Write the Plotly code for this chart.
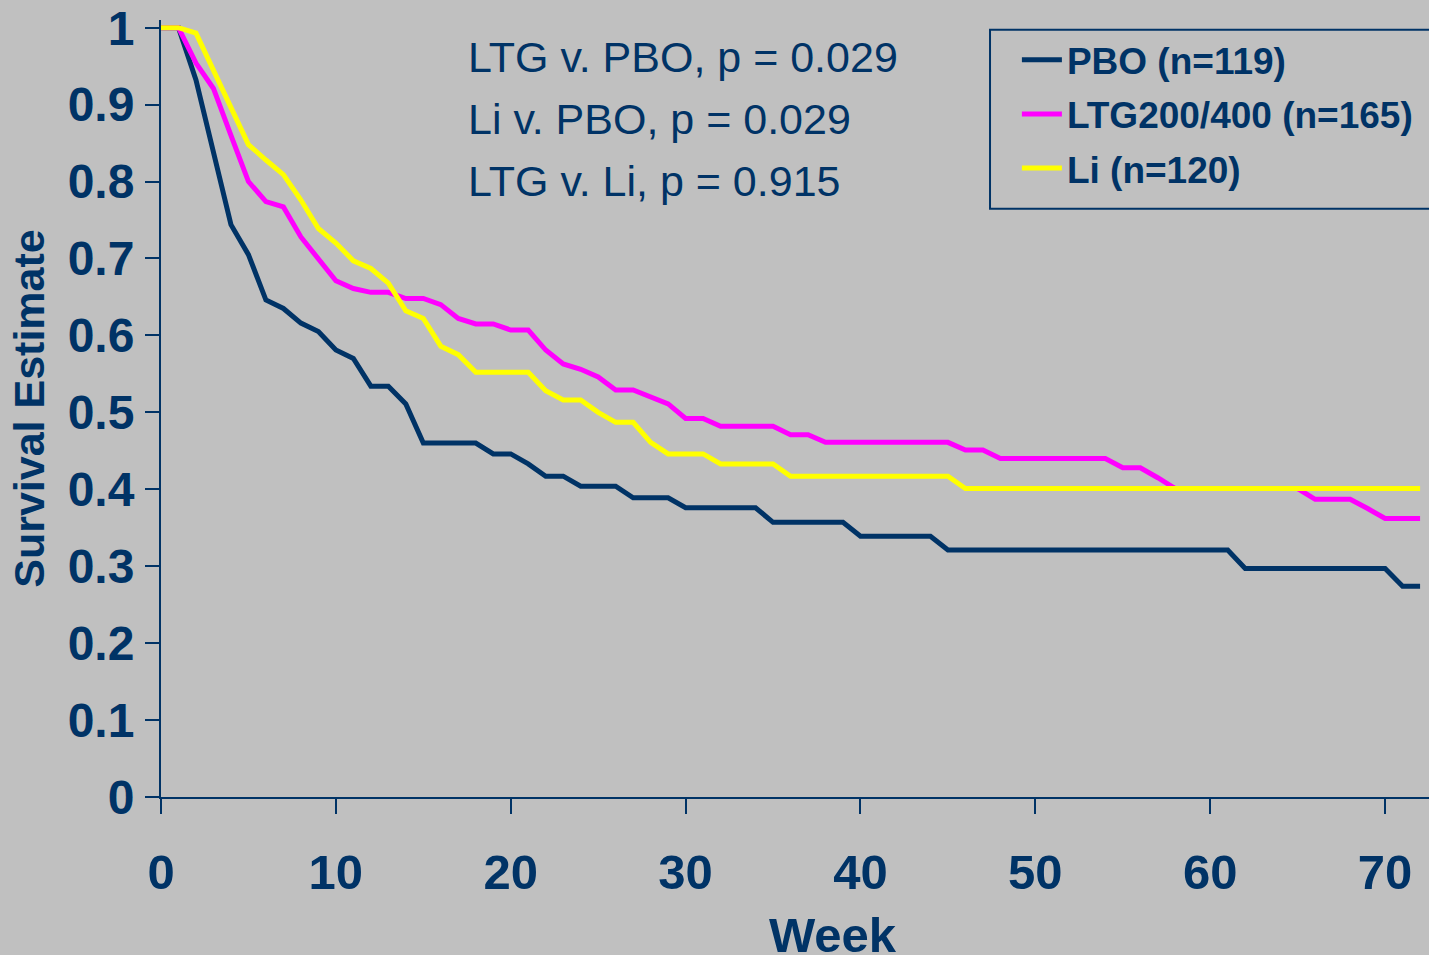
import plotly.graph_objects as go

weeks = list(range(0, 73))

pbo = [1.0, 1.0, 0.932, 0.838, 0.744, 0.705, 0.646, 0.635, 0.616, 0.605,
       0.581, 0.570, 0.534, 0.534, 0.511, 0.46, 0.46, 0.46, 0.46, 0.446,
       0.446, 0.433, 0.417, 0.417, 0.404, 0.404, 0.404, 0.389, 0.389, 0.389,
       0.376, 0.376, 0.376, 0.376, 0.376, 0.357, 0.357, 0.357, 0.357, 0.357,
       0.339, 0.339, 0.339, 0.339, 0.339, 0.321, 0.321, 0.321, 0.321, 0.321,
       0.321, 0.321, 0.321, 0.321, 0.321, 0.321, 0.321, 0.321, 0.321, 0.321,
       0.321, 0.321, 0.297, 0.297, 0.297, 0.297, 0.297, 0.297, 0.297, 0.297,
       0.297, 0.274, 0.274]

ltg = [1.0, 1.0, 0.954, 0.921, 0.86, 0.80, 0.774, 0.767, 0.728, 0.70,
       0.671, 0.661, 0.656, 0.656, 0.648, 0.648, 0.640, 0.622, 0.615, 0.615,
       0.607, 0.607, 0.581, 0.563, 0.556, 0.546, 0.529, 0.529, 0.520, 0.511,
       0.492, 0.492, 0.482, 0.482, 0.482, 0.482, 0.471, 0.471, 0.461, 0.461,
       0.461, 0.461, 0.461, 0.461, 0.461, 0.461, 0.451, 0.451, 0.44, 0.44,
       0.44, 0.44, 0.44, 0.44, 0.44, 0.428, 0.428, 0.415, 0.401, 0.401,
       0.401, 0.401, 0.401, 0.401, 0.401, 0.401, 0.387, 0.387, 0.387, 0.375,
       0.362, 0.362, 0.362]

li = [1.0, 1.0, 0.993, 0.945, 0.896, 0.848, 0.828, 0.809, 0.776, 0.739,
      0.72, 0.697, 0.687, 0.668, 0.632, 0.622, 0.586, 0.575, 0.552, 0.552,
      0.552, 0.552, 0.528, 0.516, 0.516, 0.50, 0.487, 0.487, 0.461, 0.446,
      0.446, 0.446, 0.433, 0.433, 0.433, 0.433, 0.417, 0.417, 0.417, 0.417,
      0.417, 0.417, 0.417, 0.417, 0.417, 0.417, 0.401, 0.401, 0.401, 0.401,
      0.401, 0.401, 0.401, 0.401, 0.401, 0.401, 0.401, 0.401, 0.401, 0.401,
      0.401, 0.401, 0.401, 0.401, 0.401, 0.401, 0.401, 0.401, 0.401, 0.401,
      0.401, 0.401, 0.401]

series_names = ["PBO (n=119)", "LTG200/400 (n=165)", "Li (n=120)"]
series_colors = ["#003366", "#FF00FF", "#FFFF00"]

x_ticks = [0, 10, 20, 30, 40, 50, 60, 70]
y_ticks = [0, 0.1, 0.2, 0.3, 0.4, 0.5, 0.6, 0.7, 0.8, 0.9, 1]
y_ticktext = ["0", "0.1", "0.2", "0.3", "0.4", "0.5", "0.6", "0.7", "0.8", "0.9", "1"]

pvalues = ["LTG v. PBO, p = 0.029", "Li v. PBO, p = 0.029", "LTG v. Li, p = 0.915"]

navy = "#003366"
bg = "#C0C0C0"
font = "Liberation Sans, Arial, sans-serif"

fig = go.Figure()
for i, ys in enumerate([pbo, ltg, li]):
    fig.add_trace(go.Scatter(
        x=weeks, y=ys, mode="lines", name=series_names[i],
        legendgroup=str(i),
        line=dict(color=series_colors[i], width=5),
    ))

fig.update_layout(
    width=1429, height=955,
    margin=dict(l=161, r=0, t=20, b=158),
    paper_bgcolor=bg, plot_bgcolor=bg,
    font=dict(family=font, color=navy),
    showlegend=True,
    legend=dict(
        x=0.675, xanchor="left", y=0.988, yanchor="top",
        bgcolor="rgba(0,0,0,0)", borderwidth=0,
        font=dict(family=font, size=37, color=navy, weight="bold"),
        tracegroupgap=3, traceorder="grouped", itemwidth=40,
    ),
    xaxis=dict(
        range=[0, 72.51], showgrid=False, zeroline=False,
        showline=True, linecolor=navy, linewidth=2,
        ticks="outside", ticklen=15, tickwidth=2, tickcolor=navy,
        tickvals=x_ticks, ticklabelstandoff=16,
        tickfont=dict(family=font, size=49, color=navy, weight="bold"),
    ),
    yaxis=dict(
        range=[0, 1.01], showgrid=False, zeroline=False,
        showline=True, linecolor=navy, linewidth=2,
        ticks="outside", ticklen=14, tickwidth=2, tickcolor=navy,
        tickvals=y_ticks, ticktext=y_ticktext, ticklabelstandoff=1,
        tickfont=dict(family=font, size=48, color=navy, weight="bold"),
        title=dict(text="Survival Estimate", standoff=10,
                   font=dict(family=font, size=43, color=navy, weight="bold")),
    ),
)

# legend frame (runs past the right edge as in the original slide)
fig.add_shape(type="rect", xref="paper", yref="paper",
              x0=0.6538, x1=1.03, y0=0.757, y1=0.9875,
              line=dict(color=navy, width=2), fillcolor="rgba(0,0,0,0)")

# x axis title, placed slightly right of centre like the source
fig.add_annotation(text="Week", xref="paper", yref="paper",
                   x=0.53, y=-0.1777, xanchor="center", yanchor="middle",
                   showarrow=False,
                   font=dict(family=font, size=49, color=navy, weight="bold"))

for txt, ypos in zip(pvalues, [0.952, 0.8729, 0.7933]):
    fig.add_annotation(text=txt, xref="paper", yref="paper",
                       x=0.2405, y=ypos, xanchor="left", yanchor="middle",
                       showarrow=False,
                       font=dict(family=font, size=43, color=navy))

# drop the default page margin so the figure sits flush in the window
fig.write_html(
    "out.html",
    config={"displayModeBar": False},
    post_script="document.body.style.margin='0';"
                "document.body.style.overflow='hidden';"
                "document.body.style.background='#C0C0C0';",
)
